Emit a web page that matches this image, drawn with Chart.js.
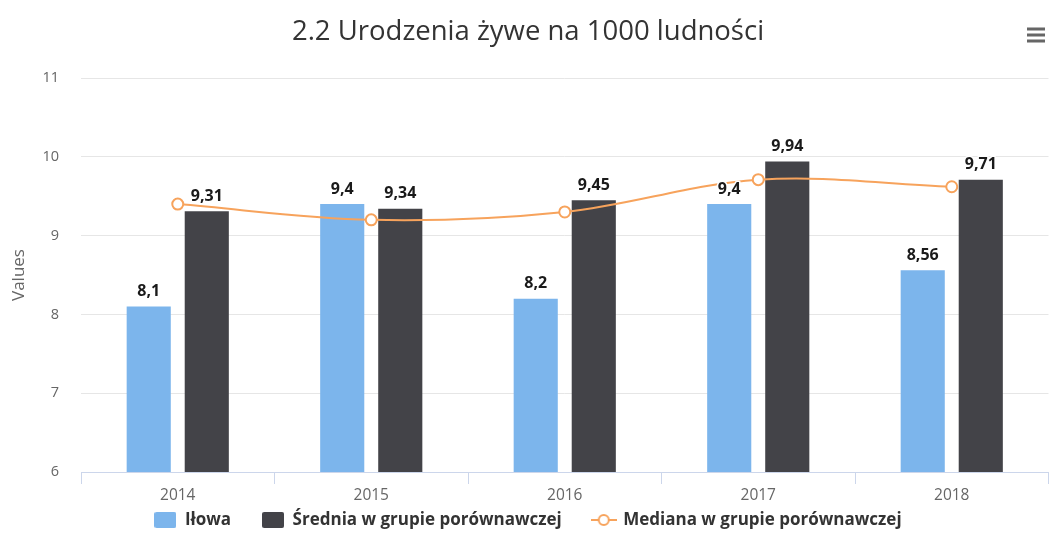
<!DOCTYPE html>
<html lang="pl">
<head>
<meta charset="utf-8">
<title>Urodzenia żywe na 1000 ludności</title>
<script src="https://cdn.jsdelivr.net/npm/chart.js@4.4.1/dist/chart.umd.min.js"></script>
<style>
    html, body { margin: 0; padding: 0; background: #fff; overflow: hidden; }
    #wrap { position: relative; width: 1056px; height: 555px; }
</style>
</head>
<body>
<div id="wrap"><canvas id="birthsChart"></canvas></div>
<script>
// Dane
const years = ['2014', '2015', '2016', '2017', '2018'];
const ilowa = [8.1, 9.4, 8.2, 9.4, 8.56];
const srednia = [9.31, 9.34, 9.45, 9.94, 9.71];
const mediana = [9.40, 9.20, 9.30, 9.71, 9.62];
const yTicks = [6, 7, 8, 9, 10, 11];

const BLUE = '#7cb5ec';
const DARK = '#434348';
const ORANGE = '#f7a35c';

const fmt = (v) => String(v).replace('.', ',');

// legend symbols drawn on small canvases
function rectSymbol(color) {
    const c = document.createElement('canvas');
    c.width = 22; c.height = 16;
    const g = c.getContext('2d');
    g.fillStyle = color;
    g.beginPath();
    g.roundRect(0, 0, 22, 16, 2);
    g.fill();
    return c;
}

function lineSymbol(color) {
    const c = document.createElement('canvas');
    c.width = 26; c.height = 16;
    const g = c.getContext('2d');
    g.strokeStyle = color;
    g.lineWidth = 2;
    g.beginPath();
    g.moveTo(0, 8); g.lineTo(26, 8);
    g.stroke();
    g.fillStyle = '#fff';
    g.beginPath();
    g.arc(13, 8, 5, 0, Math.PI * 2);
    g.fill();
    g.stroke();
    return c;
}

// etykiety nad słupkami
const barLabels = {
    id: 'barLabels',
    afterDatasetsDraw(chart) {
        const ctx = chart.ctx;
        ctx.save();
        ctx.font = 'bold 16px "Open Sans", sans-serif';
        ctx.textAlign = 'center';
        ctx.textBaseline = 'bottom';
        ctx.lineJoin = 'round';
        chart.data.datasets.forEach((ds, i) => {
            if (ds.type === 'line') return;
            chart.getDatasetMeta(i).data.forEach((bar, j) => {
                const txt = fmt(ds.data[j]);
                ctx.strokeStyle = '#fff';
                ctx.lineWidth = 3;
                ctx.strokeText(txt, bar.x, bar.y - 7);
                ctx.fillStyle = '#1a1a1a';
                ctx.fillText(txt, bar.x, bar.y - 7);
            });
        });
        ctx.restore();
    }
};

// legenda bliżej osi X (padding legendy służy też jako odstęp między pozycjami)
const legendLift = {
    id: 'legendLift',
    afterLayout(chart) {
        const lg = chart.legend;
        const h = lg.bottom - lg.top;
        lg.top = chart.chartArea.bottom + 8.5;
        lg.bottom = lg.top + h;
    }
};

// ikona menu w prawym górnym rogu
const menuIcon = {
    id: 'menuIcon',
    afterDraw(chart) {
        const ctx = chart.ctx;
        ctx.save();
        ctx.fillStyle = '#666';
        [29, 35, 41].forEach(y => ctx.fillRect(1027, y - 1.5, 18, 3));
        ctx.restore();
    }
};

Chart.defaults.font.family = "'Open Sans', sans-serif";

const ctx = document.getElementById('birthsChart').getContext('2d');
new Chart(ctx, {
    type: 'bar',
    data: {
        labels: years,
        datasets: [
            {
                label: 'Iłowa',
                data: ilowa,
                backgroundColor: BLUE,
                borderWidth: 0,
                categoryPercentage: 0.6,
                barPercentage: 0.76,
                order: 1
            },
            {
                label: 'Średnia w grupie porównawczej',
                data: srednia,
                backgroundColor: DARK,
                borderWidth: 0,
                categoryPercentage: 0.6,
                barPercentage: 0.76,
                order: 1
            },
            {
                type: 'line',
                label: 'Mediana w grupie porównawczej',
                data: mediana,
                borderColor: ORANGE,
                backgroundColor: ORANGE,
                borderWidth: 2,
                tension: 0.35,
                pointRadius: 5.5,
                pointBorderWidth: 2,
                pointBackgroundColor: '#fff',
                pointBorderColor: ORANGE,
                fill: false,
                order: -1
            }
        ]
    },
    options: {
        responsive: true,
        maintainAspectRatio: false,
        animation: false,
        layout: { padding: { left: 0, right: 0, top: 0, bottom: 0 } },
        plugins: {
            title: {
                display: true,
                text: '2.2 Urodzenia żywe na 1000 ludności',
                color: '#333',
                font: { size: 27.5, weight: 'normal' },
                padding: { top: 15.5, bottom: 29.5 }
            },
            legend: {
                position: 'bottom',
                maxHeight: 49,
                labels: {
                    usePointStyle: true,
                    pointStyleWidth: 22,
                    padding: 31,
                    color: '#333',
                    font: { size: 17, weight: 'bold' },
                    sort: (a, b) => a.datasetIndex - b.datasetIndex,
                    generateLabels: (chart) => chart.data.datasets.map((ds, i) => ({
                        text: ds.label,
                        datasetIndex: i,
                        fontColor: '#333',
                        pointStyle: ds.type === 'line' ? lineSymbol(ORANGE) : rectSymbol(ds.backgroundColor),
                        hidden: false,
                        lineWidth: 0
                    }))
                }
            },
            tooltip: { enabled: false }
        },
        scales: {
            x: {
                grid: {
                    drawOnChartArea: false,
                    drawTicks: true,
                    tickLength: 12,
                    color: '#ccd6eb'
                },
                border: { color: '#ccd6eb' },
                ticks: {
                    color: '#666',
                    font: { size: 15.5 },
                    padding: 2
                },
                afterFit: (scale) => { scale.height = 34; }
            },
            y: {
                min: yTicks[0],
                max: yTicks[yTicks.length - 1],
                afterBuildTicks: (scale) => { scale.ticks = yTicks.map(v => ({ value: v })); },
                grid: { color: '#e6e6e6', drawTicks: false },
                border: { display: false },
                ticks: {
                    color: '#666',
                    font: { size: 14.5 },
                    padding: 22
                },
                title: {
                    display: true,
                    text: 'Values',
                    color: '#666',
                    font: { size: 17 },
                    padding: { top: 9, bottom: 0 }
                },
                afterFit: (scale) => { scale.width = 81; }
            }
        }
    },
    plugins: [barLabels, legendLift, menuIcon]
});
</script>
</body>
</html>
